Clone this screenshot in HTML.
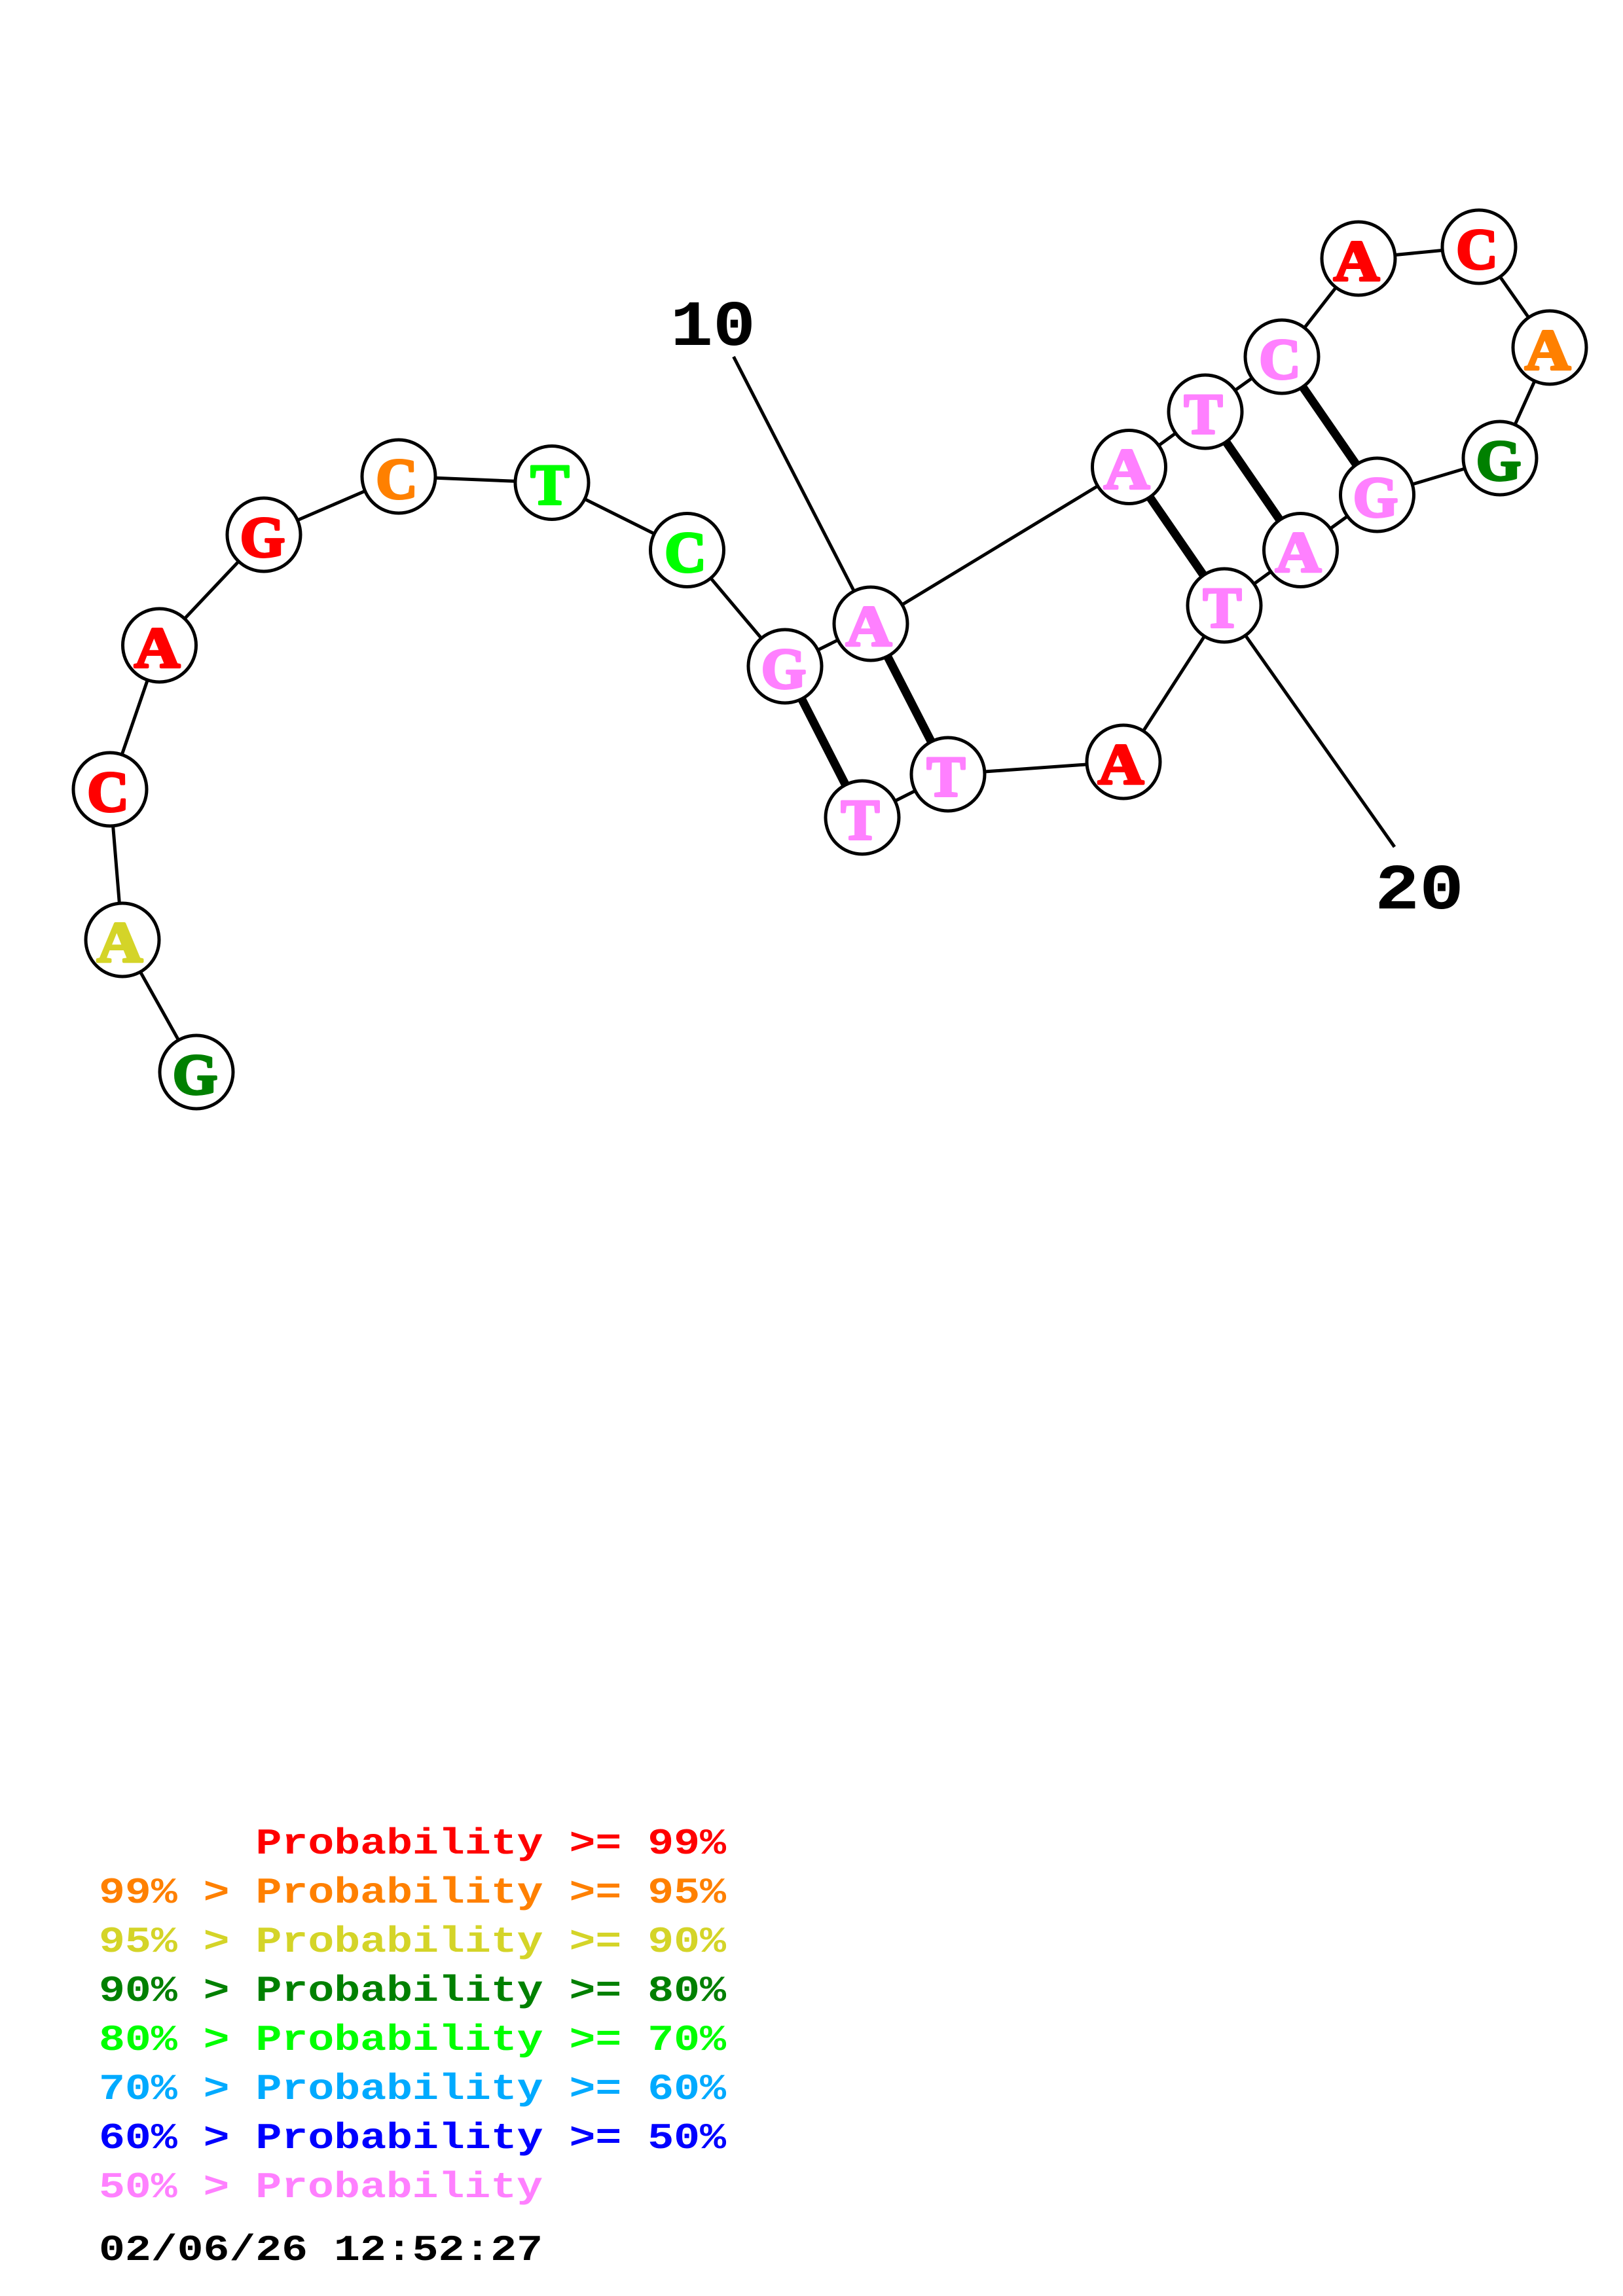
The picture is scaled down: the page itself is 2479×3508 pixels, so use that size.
<!DOCTYPE html>
<html>
<head>
<meta charset="utf-8">
<style>
html,body{margin:0;padding:0;background:#fff;width:2479px;height:3508px;overflow:hidden}
svg{display:block}
.n{font-family:"Liberation Serif",serif;font-weight:bold;font-size:88px;text-anchor:middle;stroke-width:4px;stroke-linejoin:round}
.l{font-family:"Liberation Mono",monospace;font-weight:bold;font-size:56px}
.b{font-family:"Liberation Mono",monospace;font-weight:bold;font-size:98px}
</style>
</head>
<body>
<svg xmlns="http://www.w3.org/2000/svg" width="2479" height="3508" viewBox="0 0 2479 3508">
<rect width="2479" height="3508" fill="#fff"/>
<g stroke="#000" stroke-width="5" fill="none">
<polyline points="300,1638 187,1436 168,1206 243.5,986 403,817 609,728 843,737.5 1049.5,840.5 1199,1018 1330,953 1724.5,713.5 1841,629 1958,545 2075,395 2259,377 2367,531 2291,700 2103.5,756 1986.5,840.5 1870,925 1716,1164 1448,1183 1317,1249"/>
<line x1="1120.5" y1="545" x2="1330" y2="953"/>
<line x1="1870" y1="925" x2="2130" y2="1294"/>
</g>
<g stroke="#000" stroke-width="13" fill="none">
<line x1="1199" y1="1018" x2="1317" y2="1249"/>
<line x1="1330" y1="953" x2="1448" y2="1183"/>
<line x1="1724.5" y1="713.5" x2="1870" y2="925"/>
<line x1="1841" y1="629" x2="1986.5" y2="840.5"/>
<line x1="1958" y1="545" x2="2103.5" y2="756"/>
</g>
<g fill="#fff" stroke="#000" stroke-width="5">
<circle cx="300" cy="1638" r="56"/>
<circle cx="187" cy="1436" r="56"/>
<circle cx="168" cy="1206" r="56"/>
<circle cx="243.5" cy="986" r="56"/>
<circle cx="403" cy="817" r="56"/>
<circle cx="609" cy="728" r="56"/>
<circle cx="843" cy="737.5" r="56"/>
<circle cx="1049.5" cy="840.5" r="56"/>
<circle cx="1199" cy="1018" r="56"/>
<circle cx="1330" cy="953" r="56"/>
<circle cx="1724.5" cy="713.5" r="56"/>
<circle cx="1841" cy="629" r="56"/>
<circle cx="1958" cy="545" r="56"/>
<circle cx="2075" cy="395" r="56"/>
<circle cx="2259" cy="377" r="56"/>
<circle cx="2367" cy="531" r="56"/>
<circle cx="2291" cy="700" r="56"/>
<circle cx="2103.5" cy="756" r="56"/>
<circle cx="1986.5" cy="840.5" r="56"/>
<circle cx="1870" cy="925" r="56"/>
<circle cx="1716" cy="1164" r="56"/>
<circle cx="1448" cy="1183" r="56"/>
<circle cx="1317" cy="1249" r="56"/>
</g>
<g class="n" transform="translate(0,-3)">
<text x="298" y="1674" fill="#008000" stroke="#008000">G</text>
<text x="183" y="1472" fill="#d4d428" stroke="#d4d428" textLength="70" lengthAdjust="spacingAndGlyphs">A</text>
<text x="165" y="1242" fill="#ff0000" stroke="#ff0000">C</text>
<text x="240" y="1022" fill="#ff0000" stroke="#ff0000" textLength="70" lengthAdjust="spacingAndGlyphs">A</text>
<text x="401" y="853" fill="#ff0000" stroke="#ff0000">G</text>
<text x="606" y="764" fill="#ff8000" stroke="#ff8000">C</text>
<text x="840" y="773" fill="#00ff00" stroke="#00ff00">T</text>
<text x="1047" y="876" fill="#00ff00" stroke="#00ff00">C</text>
<text x="1197" y="1054" fill="#ff80ff" stroke="#ff80ff">G</text>
<text x="1327" y="989" fill="#ff80ff" stroke="#ff80ff" textLength="70" lengthAdjust="spacingAndGlyphs">A</text>
<text x="1721" y="749" fill="#ff80ff" stroke="#ff80ff" textLength="70" lengthAdjust="spacingAndGlyphs">A</text>
<text x="1838" y="665" fill="#ff80ff" stroke="#ff80ff">T</text>
<text x="1955" y="581" fill="#ff80ff" stroke="#ff80ff">C</text>
<text x="2072" y="431" fill="#ff0000" stroke="#ff0000" textLength="70" lengthAdjust="spacingAndGlyphs">A</text>
<text x="2256" y="413" fill="#ff0000" stroke="#ff0000">C</text>
<text x="2364" y="567" fill="#ff8000" stroke="#ff8000" textLength="70" lengthAdjust="spacingAndGlyphs">A</text>
<text x="2289" y="736" fill="#008000" stroke="#008000">G</text>
<text x="2101" y="792" fill="#ff80ff" stroke="#ff80ff">G</text>
<text x="1983" y="876" fill="#ff80ff" stroke="#ff80ff" textLength="70" lengthAdjust="spacingAndGlyphs">A</text>
<text x="1867" y="961" fill="#ff80ff" stroke="#ff80ff">T</text>
<text x="1712" y="1200" fill="#ff0000" stroke="#ff0000" textLength="70" lengthAdjust="spacingAndGlyphs">A</text>
<text x="1445" y="1219" fill="#ff80ff" stroke="#ff80ff">T</text>
<text x="1314" y="1285" fill="#ff80ff" stroke="#ff80ff">T</text>
</g>
<text class="b" x="1024" y="527" fill="#000" textLength="130" lengthAdjust="spacingAndGlyphs">10</text>
<text class="b" x="2100" y="1388" fill="#000" textLength="136" lengthAdjust="spacingAndGlyphs">20</text>
<g class="l" xml:space="preserve">
<text x="151" y="2832" fill="#ff0000" xml:space="preserve" textLength="958" lengthAdjust="spacingAndGlyphs">      Probability &gt;= 99%</text>
<text x="151" y="2907" fill="#ff8000" xml:space="preserve" textLength="958" lengthAdjust="spacingAndGlyphs">99% &gt; Probability &gt;= 95%</text>
<text x="151" y="2982" fill="#d4d428" xml:space="preserve" textLength="958" lengthAdjust="spacingAndGlyphs">95% &gt; Probability &gt;= 90%</text>
<text x="151" y="3057" fill="#008000" xml:space="preserve" textLength="958" lengthAdjust="spacingAndGlyphs">90% &gt; Probability &gt;= 80%</text>
<text x="151" y="3132" fill="#00ff00" xml:space="preserve" textLength="958" lengthAdjust="spacingAndGlyphs">80% &gt; Probability &gt;= 70%</text>
<text x="151" y="3207" fill="#00aaff" xml:space="preserve" textLength="958" lengthAdjust="spacingAndGlyphs">70% &gt; Probability &gt;= 60%</text>
<text x="151" y="3282" fill="#0000ff" xml:space="preserve" textLength="958" lengthAdjust="spacingAndGlyphs">60% &gt; Probability &gt;= 50%</text>
<text x="151" y="3357" fill="#ff80ff" xml:space="preserve" textLength="678" lengthAdjust="spacingAndGlyphs">50% &gt; Probability</text>
<text x="151" y="3453" fill="#000000" xml:space="preserve" textLength="678" lengthAdjust="spacingAndGlyphs">02/06/26 12:52:27</text>
</g>
</svg>
</body>
</html>
